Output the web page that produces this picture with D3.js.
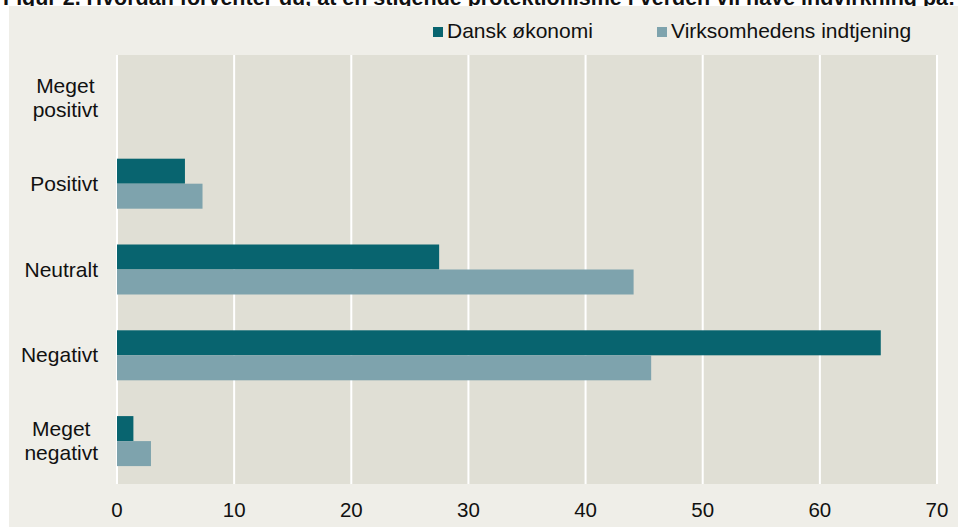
<!DOCTYPE html>
<head>
  <meta charset="utf-8">
  <script src="https://d3js.org/d3.v7.min.js"></script>
  <style>
    body { margin: 0; background: #fff; }
    text { font-family: "Liberation Sans", Arial, sans-serif; fill: #111; }
  </style>
</head>
<body>
  <script>
    var categories = ["Meget positivt", "Positivt", "Neutralt", "Negativt", "Meget negativt"];
    var seriesNames = ["Dansk økonomi", "Virksomhedens indtjening"];
    var danskOkonomi = [0, 5.8, 27.5, 65.2, 1.4];
    var indtjening = [0, 7.3, 44.1, 45.6, 2.9];
    var xTicks = [0, 10, 20, 30, 40, 50, 60, 70];
    var colors = ["#08646f", "#7ea3ad"];
    var title = "Figur 2. Hvordan forventer du, at en stigende protektionisme i verden vil have indvirkning på:";

    var width = 958, height = 527;
    var margin = {left: 117, right: 21, top: 55, bottom: 43};

    var svg = d3.select("body").append("svg")
        .attr("width", width)
        .attr("height", height);

    // title sits mostly above the page edge, panel covers the rest
    svg.append("text").attr("x", 3).attr("y", 5)
      .attr("font-weight", "bold").attr("font-size", 21.5)
      .text(title);

    svg.append("rect").attr("x", 9).attr("y", 6)
      .attr("width", width - 9).attr("height", height - 6)
      .attr("fill", "#efeee8");

    var x = d3.scaleLinear().domain([0, 70]).range([margin.left, width - margin.right]);
    var y = d3.scaleBand().domain(categories).range([margin.top, height - margin.bottom]);
    var ySub = d3.scaleBand().domain(seriesNames).range([0, 50]);

    svg.append("rect").attr("x", x(0)).attr("y", margin.top)
      .attr("width", x(70) - x(0)).attr("height", height - margin.bottom - margin.top)
      .attr("fill", "#e0dfd5");

    svg.selectAll("line.grid").data(xTicks).enter().append("line")
      .attr("class", "grid")
      .attr("x1", d => x(d)).attr("x2", d => x(d))
      .attr("y1", margin.top).attr("y2", height - margin.bottom)
      .attr("stroke", "#fff").attr("stroke-width", 2);

    var rows = categories.map((c, i) => ({cat: c, vals: [danskOkonomi[i], indtjening[i]]}));
    var g = svg.selectAll("g.row").data(rows).enter().append("g")
      .attr("transform", d => "translate(0," + (y(d.cat) + y.bandwidth() / 2 - 25) + ")");
    g.selectAll("rect").data(d => d.vals.map((v, j) => ({v: v, s: seriesNames[j], j: j})))
      .enter().append("rect")
      .filter(d => d.v > 0)
      .attr("x", x(0)).attr("y", d => ySub(d.s))
      .attr("width", d => x(d.v) - x(0)).attr("height", ySub.bandwidth())
      .attr("fill", d => colors[d.j]);

    // category labels: lines centred on each other, block right edge at 98
    svg.selectAll("text.cat").data(categories).enter().append("text")
      .attr("class", "cat")
      .attr("text-anchor", "middle")
      .attr("font-size", 21)
      .each(function (d) {
        var words = d.split(" ");
        var t = d3.select(this);
        var cy = y(d) + y.bandwidth() / 2;
        var lh = 24;
        var start = cy - (words.length - 1) * lh / 2 + 7;
        var spans = words.map(function (w, i) {
          return t.append("tspan").attr("y", start + i * lh).text(w);
        });
        var maxW = d3.max(spans, s => s.node().getComputedTextLength());
        spans.forEach(s => s.attr("x", 98 - maxW / 2));
      });

    // x tick labels
    svg.selectAll("text.tick").data(xTicks).enter().append("text")
      .attr("class", "tick")
      .attr("x", d => x(d)).attr("y", 517)
      .attr("text-anchor", "middle").attr("font-size", 20.5)
      .text(d => d);

    // legend
    var legX = [433, 657];
    seriesNames.forEach(function (s, i) {
      svg.append("rect").attr("x", legX[i]).attr("y", 27).attr("width", 10).attr("height", 10)
        .attr("fill", colors[i]);
      svg.append("text").attr("x", legX[i] + 14).attr("y", 37.5)
        .attr("font-size", 21).text(s);
    });
  </script>
</body>
